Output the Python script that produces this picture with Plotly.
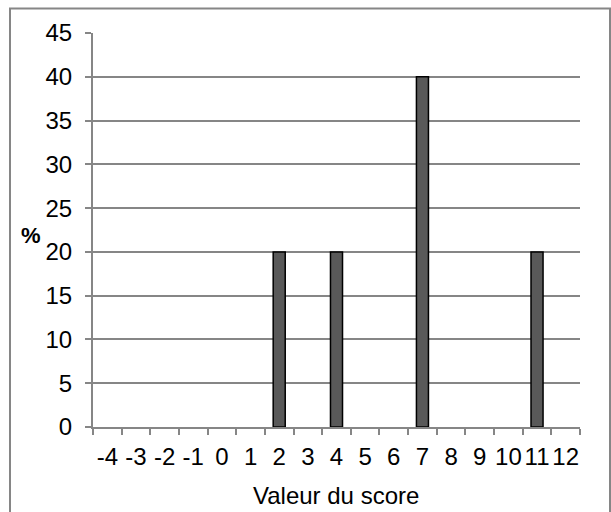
import plotly.graph_objects as go

# Score distribution (percent of respondents per score value)
categories = ["-4", "-3", "-2", "-1", "0", "1", "2", "3", "4", "5", "6", "7", "8", "9", "10", "11", "12"]
percents = [0, 0, 0, 0, 0, 0, 20, 0, 20, 0, 0, 40, 0, 0, 0, 20, 0]
y_ticks = [0, 5, 10, 15, 20, 25, 30, 35, 40, 45]

W, H = 611, 512
ml, mr, mt, mb = 93, 31, 33, 85
pw, ph = W - ml - mr, H - mt - mb

def px_x(px):
    return (px - ml) / pw

def px_y(py):
    return (H - mb - py) / ph

# empty categories get no outline, so nothing is drawn there
outline_widths = [1.5 if v > 0 else 0 for v in percents]

fig = go.Figure()
fig.add_trace(go.Bar(
    x=categories,
    y=percents,
    width=0.42,
    marker=dict(color="#595959", line=dict(color="#000000", width=outline_widths)),
    hoverinfo="x+y",
))

grey = "#868686"
family = "Liberation Sans, Arial, sans-serif"
font = dict(family=family, size=24, color="#000000")

fig.update_layout(
    width=W, height=H,
    margin=dict(l=ml, r=mr, t=mt, b=mb, autoexpand=False),
    paper_bgcolor="white",
    plot_bgcolor="white",
    showlegend=False,
    font=font,
    xaxis=dict(
        type="category",
        categoryorder="array",
        categoryarray=categories,
        tickmode="array",
        tickvals=categories,
        ticktext=categories,
        tickangle=0,
        tickson="boundaries",
        ticks="outside",
        ticklen=6,
        tickcolor=grey,
        tickwidth=2,
        showline=True,
        linecolor=grey,
        linewidth=2,
        showgrid=False,
        tickfont=font,
        ticklabelstandoff=7,
        automargin=False,
        title=None,
    ),
    yaxis=dict(
        range=[0, 45],
        tickmode="array",
        tickvals=y_ticks,
        ticks="outside",
        ticklen=6,
        tickcolor=grey,
        tickwidth=2,
        showline=True,
        linecolor=grey,
        linewidth=2,
        showgrid=True,
        gridcolor=grey,
        gridwidth=2,
        zeroline=False,
        tickfont=font,
        ticklabelstandoff=8,
        automargin=False,
        title=None,
    ),
    shapes=[
        dict(
            type="rect", xref="paper", yref="paper",
            x0=px_x(10), x1=px_x(610), y0=px_y(514), y1=px_y(8.5),
            line=dict(color=grey, width=2), fillcolor="rgba(0,0,0,0)",
            layer="below",
        )
    ],
    annotations=[
        dict(
            text="<b>%</b>", xref="paper", yref="paper",
            x=px_x(31), y=px_y(236), showarrow=False,
            font=dict(family=family, size=22, color="#000000"),
            xanchor="center", yanchor="middle",
        ),
        dict(
            text="Valeur du score", xref="paper", yref="paper",
            x=px_x(336), y=px_y(496), showarrow=False,
            font=font, xanchor="center", yanchor="middle",
        ),
    ],
)

fig.write_html("out.html")
